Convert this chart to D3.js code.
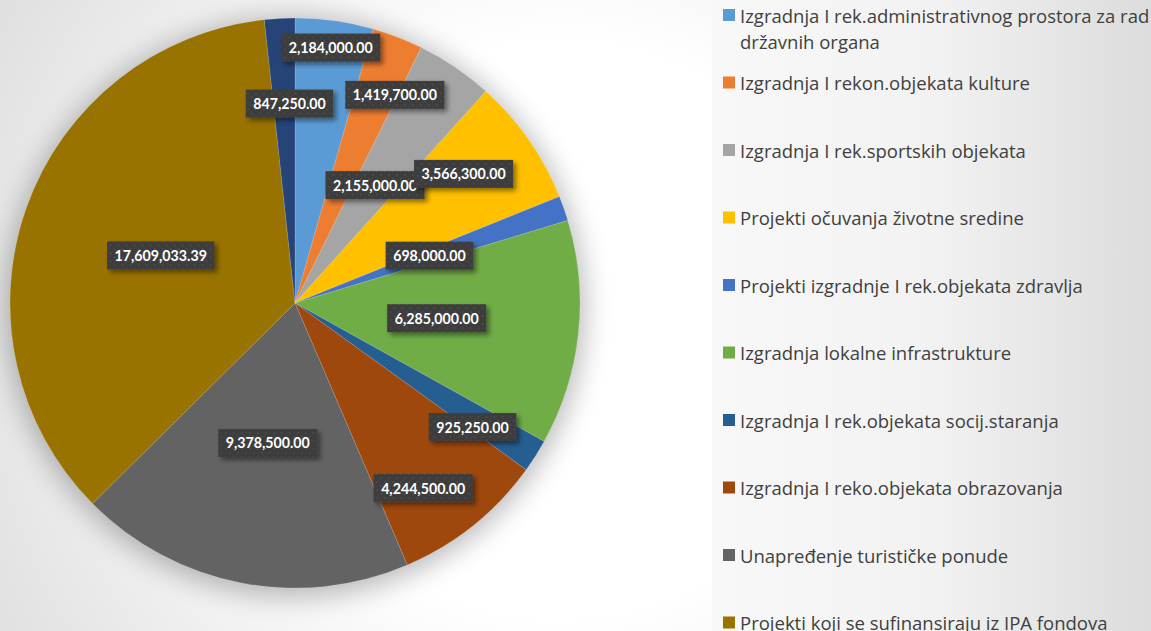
<!DOCTYPE html>
<html lang="sr">
<head>
<meta charset="utf-8" />
<title>Pie</title>
<style>
    body { margin: 0; background: #fff; }
    svg { display: block; }
    text.val { font-family: Lato, 'Open Sans', sans-serif; font-weight: bold; font-size: 14.2px; fill: #fff; dominant-baseline: central; text-anchor: middle; }
    text.leg { font-family: 'Open Sans', Lato, sans-serif; font-size: 18.5px; fill: #404040; dominant-baseline: central; }
</style>
<script src="https://d3js.org/d3.v7.min.js"></script>
</head>
<body>
<svg id="vis" width="1151" height="631"></svg>
<script>
    // data
    var categories = [
        "Izgradnja I rek.administrativnog prostora za rad državnih organa",
        "Izgradnja I rekon.objekata kulture",
        "Izgradnja I rek.sportskih objekata",
        "Projekti očuvanja životne sredine",
        "Projekti izgradnje I rek.objekata zdravlja",
        "Izgradnja lokalne infrastrukture",
        "Izgradnja I rek.objekata socij.staranja",
        "Izgradnja I reko.objekata obrazovanja",
        "Unapređenje turističke ponude",
        "Projekti koji se sufinansiraju iz IPA fondova",
        "Ostalo"
    ];
    var values = [2184000, 1419700, 2155000, 3566300, 698000, 6285000, 925250, 4244500, 9378500, 17609033.39, 847250];
    var colors = ["#5B9BD5", "#ED7D31", "#A5A5A5", "#FFC000", "#4472C4", "#70AD47", "#255E91", "#9E480E", "#636363", "#997300", "#264478"];

    var width = 1151, height = 631;
    var cx = 295, cy = 303, radius = 285;

    // where excel's "best fit" put each label: fraction of radius, angle nudge (deg)
    var labelPos = [[0.905, 0], [0.81, 4.5], [0.5, 0], [0.745, -2.5], [0.5, 0], [0.5, 0], [0.76, 2.5], [0.79, 4], [0.5, 0], [0.5, 0], [0.70, 1.5]];

    var svg = d3.select("#vis");
    var defs = svg.append("defs");

    var bg = defs.append("radialGradient").attr("id", "bg").attr("gradientUnits", "userSpaceOnUse")
        .attr("cx", 560).attr("cy", 330).attr("r", 640);
    bg.append("stop").attr("offset", "0.45").attr("stop-color", "#ffffff");
    bg.append("stop").attr("offset", "1").attr("stop-color", "#e0e0e0");

    var lg = defs.append("linearGradient").attr("id", "legbg");
    lg.append("stop").attr("offset", "0").attr("stop-color", "#f8f8f8");
    lg.append("stop").attr("offset", "0.5").attr("stop-color", "#f2f2f2");
    lg.append("stop").attr("offset", "1").attr("stop-color", "#dcdcdc");

    defs.append("filter").attr("id", "pieShadow").attr("x", "-30%").attr("y", "-30%").attr("width", "160%").attr("height", "160%")
        .append("feGaussianBlur").attr("stdDeviation", 14);

    var ds = defs.append("filter").attr("id", "boxShadow").attr("x", "-20%").attr("y", "-30%").attr("width", "150%").attr("height", "180%");
    ds.append("feDropShadow").attr("dx", 3).attr("dy", 3).attr("stdDeviation", 2.5).attr("flood-color", "#000").attr("flood-opacity", 0.45);

    var pat = defs.append("pattern").attr("id", "dots").attr("patternUnits", "userSpaceOnUse").attr("width", 8).attr("height", 8);
    pat.append("rect").attr("width", 8).attr("height", 8).attr("fill", "#3d3d3d");
    pat.append("circle").attr("cx", 2).attr("cy", 2).attr("r", 1).attr("fill", "#4b4b4b");
    pat.append("circle").attr("cx", 6).attr("cy", 6).attr("r", 1).attr("fill", "#4b4b4b");

    svg.append("rect").attr("width", width).attr("height", height).attr("fill", "url(#bg)");

    // legend panel
    svg.append("rect").attr("x", 712).attr("y", 0).attr("width", width - 712).attr("height", height).attr("fill", "url(#legbg)");

    // pie
    var pie = d3.pie().sort(null).value(function (d) { return d; });
    var arcs = pie(values);
    var arc = d3.arc().innerRadius(0).outerRadius(radius);

    var g = svg.append("g").attr("transform", "translate(" + cx + "," + cy + ")");
    g.append("circle").attr("r", radius + 4).attr("cy", 4).attr("fill", "#000").attr("opacity", 0.28).attr("filter", "url(#pieShadow)");

    g.selectAll("path.slice").data(arcs).enter().append("path").attr("class", "slice")
        .attr("d", arc)
        .attr("fill", function (d, i) { return colors[i]; })
        .attr("stroke", "rgba(255,255,255,0.25)").attr("stroke-width", 0.6);

    var fmt = d3.format(",.2f");
    var labels = g.selectAll("g.lab").data(arcs).enter().append("g").attr("class", "lab")
        .attr("transform", function (d, i) {
            var a = (d.startAngle + d.endAngle) / 2 + labelPos[i][1] * Math.PI / 180;
            var r = radius * labelPos[i][0];
            return "translate(" + (r * Math.sin(a)) + "," + (-r * Math.cos(a)) + ")";
        });
    labels.append("rect").attr("filter", "url(#boxShadow)").attr("fill", "url(#dots)");
    labels.append("text").attr("class", "val").text(function (d) { return fmt(d.data); });
    labels.each(function () {
        var sel = d3.select(this);
        var w = sel.select("text").node().getComputedTextLength() + 15;
        sel.select("rect").attr("x", -w / 2).attr("y", -14).attr("width", w).attr("height", 28);
    });

    // legend
    var legY = d3.scaleLinear().domain([0, 9]).range([15, 622.5]);
    var leg = svg.append("g").selectAll("g").data(categories.slice(0, 10)).enter().append("g")
        .attr("transform", function (d, i) { return "translate(723," + legY(i) + ")"; });
    leg.append("rect").attr("x", 0).attr("y", -6).attr("width", 12).attr("height", 12)
        .attr("fill", function (d, i) { return colors[i]; });
    leg.append("text").attr("class", "leg").attr("x", 17).each(function (d, i) {
        var t = d3.select(this);
        if (i === 0) {
            t.append("tspan").attr("x", 17).attr("dy", 0).text("Izgradnja I rek.administrativnog prostora za rad");
            t.append("tspan").attr("x", 17).attr("dy", 26).text("državnih organa");
        } else {
            t.text(d);
        }
    });
</script>
</body>
</html>
